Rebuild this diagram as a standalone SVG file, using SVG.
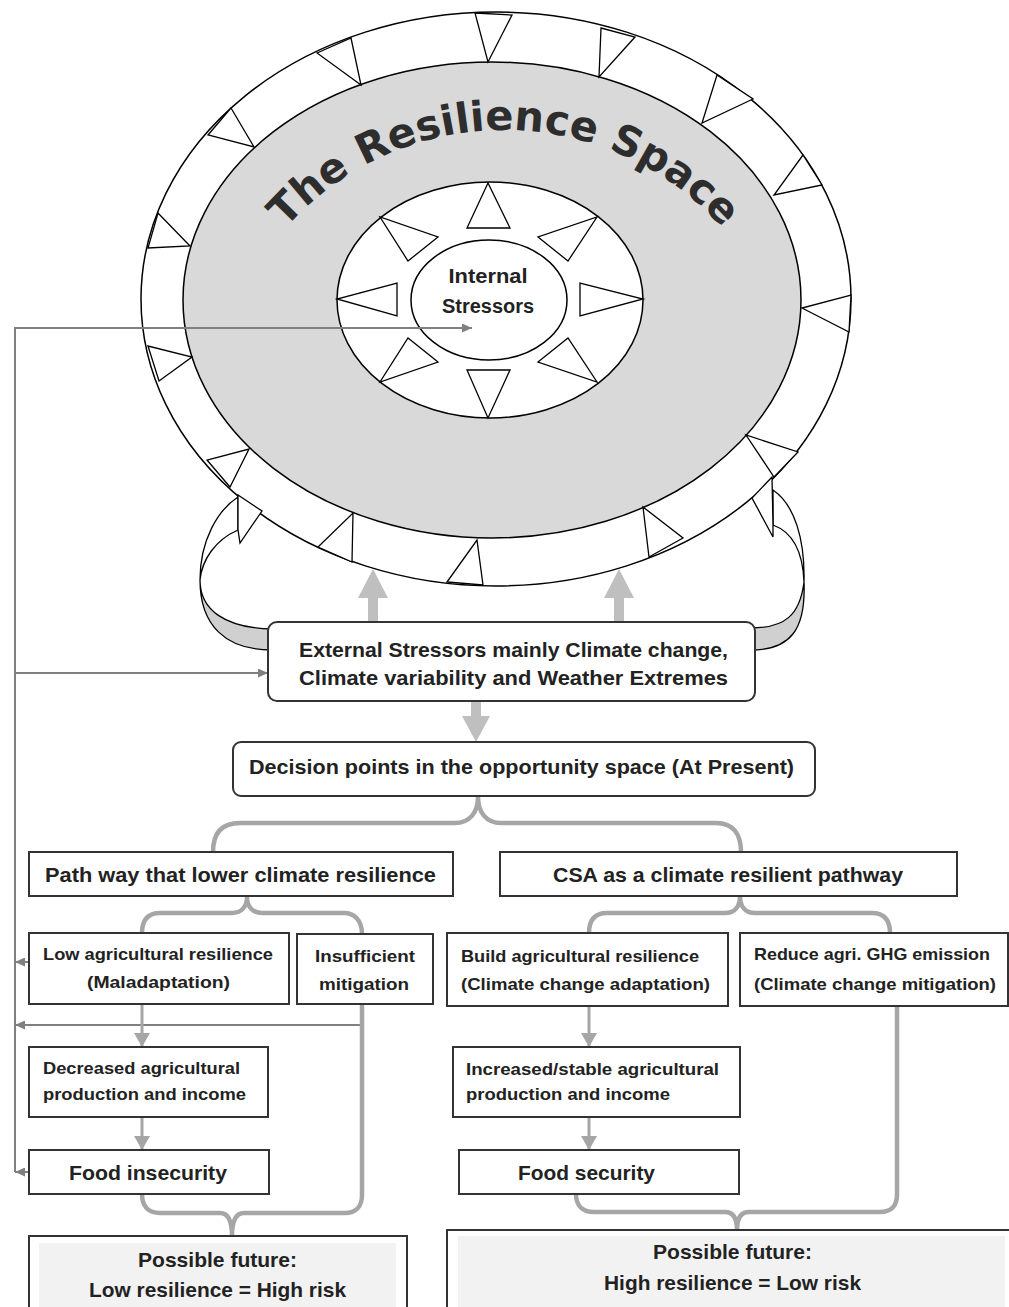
<svg xmlns="http://www.w3.org/2000/svg" width="1009" height="1307" viewBox="0 0 1009 1307">
<style>
.bx{fill:#fff;stroke:#333;stroke-width:2}
.t{font-family:"Liberation Sans",Arial,sans-serif;font-weight:bold;fill:#222}
.ln{stroke:#000;stroke-width:1.5}
.tri{fill:#fff;stroke:#000;stroke-width:1.3;stroke-linejoin:miter}
.fb{stroke:#808080;stroke-width:2;fill:none}
.gc{stroke:#a6a6a6;fill:none;stroke-width:3}
.br{stroke:#a6a6a6;fill:none;stroke-width:4.5;stroke-linejoin:round}
.big{fill:#bfbfbf}
</style>
<defs>
<marker id="fb" markerUnits="userSpaceOnUse" markerWidth="11" markerHeight="9" refX="10" refY="4.5" orient="auto"><path d="M0,0 L10,4.5 L0,9 Z" fill="#808080"/></marker>
<marker id="ga" markerUnits="userSpaceOnUse" markerWidth="17" markerHeight="16" refX="14" refY="8" orient="auto"><path d="M0,0 L14,8 L0,16 Z" fill="#a6a6a6"/></marker>
<path id="titleArc" d="M 212,422 A 292 292 0 0 1 796,422"/>
</defs>

<g id="resilience-space">
<ellipse class="ln" cx="496" cy="299" rx="355" ry="287" fill="#fff"/>
<ellipse class="ln" cx="492" cy="300" rx="309" ry="238" fill="#d9d9d9"/>
<g id="outer-triangles">
<polygon class="tri" points="317,53 351,38 361,85"/>
<polygon class="tri" points="475,13 512,15 488,62"/>
<polygon class="tri" points="601,28 635,37 599,77"/>
<polygon class="tri" points="717,75 753,99 702,123"/>
<polygon class="tri" points="803,155 822,185 774,195"/>
<polygon class="tri" points="851,295 849,332 802,308"/>
<polygon class="tri" points="798,452 774,477 746,435"/>
<polygon class="tri" points="683,538 649,557 643,507"/>
<polygon class="tri" points="447,582 483,585 477,540"/>
<polygon class="tri" points="318,547 352,562 353,513"/>
<polygon class="tri" points="207,460 230,487 249,449"/>
<polygon class="tri" points="148,346 159,381 192,357"/>
<polygon class="tri" points="158,213 148,248 190,246"/>
<polygon class="tri" points="231,108 208,135 254,147"/>
</g>
<ellipse class="ln" cx="490" cy="300" rx="153" ry="118" fill="#fff"/>
<g id="inner-triangles">
<polygon class="tri" points="467,228 510,228 488,183"/>
<polygon class="tri" points="538,237 568,261 597,217"/>
<polygon class="tri" points="580,283 580,316 643,299"/>
<polygon class="tri" points="538,362 568,338 597,382"/>
<polygon class="tri" points="467,370 510,370 488,418"/>
<polygon class="tri" points="438,362 408,338 380,382"/>
<polygon class="tri" points="397,283 397,316 337,299"/>
<polygon class="tri" points="438,237 408,261 380,217"/>
</g>
<text font-family="DejaVu Sans, Verdana, sans-serif" font-weight="bold" font-size="41.5" fill="#2d2d2d"><textPath href="#titleArc" startOffset="50%" text-anchor="middle">The Resilience Space</textPath></text>
</g>

<g id="internal-stressors">
<ellipse class="ln" cx="489" cy="300" rx="78" ry="60" fill="#fff"/>
<text class="t" font-size="20" x="488" y="283" text-anchor="middle" textLength="79" lengthAdjust="spacingAndGlyphs">Internal</text>
<text class="t" font-size="20" x="488" y="313" text-anchor="middle" textLength="92" lengthAdjust="spacingAndGlyphs">Stressors</text>
</g>

<g id="connectors">
<g id="curved-arrow-left">
<path d="M238,497 C218,510 200,540 200,580 C202,560 215,540 238,530 Z" fill="#fff" stroke="#000" stroke-width="1.3"/>
<path d="M200,580 C200,610 225,628 272,629 L272,650 C225,650 200,625 200,580 Z" fill="#d0d0d0" stroke="#000" stroke-width="1.3"/>
<polygon points="238,495 262,511 240,543 238,530" fill="#fff" stroke="#000" stroke-width="1.3"/>
</g>
<g id="curved-arrow-right">
<path d="M773,490 C795,505 805,540 804,582 C803,555 795,533 773,525 Z" fill="#fff" stroke="#000" stroke-width="1.3"/>
<path d="M804,582 C806,630 790,650 751,650 L751,628 C785,628 800,615 804,582 Z" fill="#d0d0d0" stroke="#000" stroke-width="1.3"/>
<polygon points="772,477 752,498 773,537 773,525" fill="#fff" stroke="#000" stroke-width="1.3"/>
</g>
<polygon class="big" points="368,623 368,598 358,598 373,569 388,598 378,598 378,623"/>
<polygon class="big" points="614,623 614,598 604,598 619,569 634,598 624,598 624,623"/>
<polygon class="big" points="471,701 471,716 462,716 476,742 490,716 481,716 481,701"/>
<path class="fb" d="M15,1172 V328 H472" marker-end="url(#fb)"/>
<path class="fb" d="M15,673 H268" marker-end="url(#fb)"/>
<path class="fb" d="M29,962 H15" marker-end="url(#fb)"/>
<path class="fb" d="M362,1025 H15" marker-end="url(#fb)"/>
<path class="fb" d="M29,1172 H15" marker-end="url(#fb)"/>
<path class="br" stroke-width="5" d="M213,852 C213,835 220,823 240,823 L455,823 C470,823 478,812 478,797 C478,812 486,823 501,823 L716,823 C734,823 741,835 741,852"/>
<path class="br" d="M142,933 C142,920 148,913 160,913 L232,913 C242,913 247,906 247,897 C247,906 252,913 262,913 L344,913 C354,913 362,920 362,934"/>
<path class="br" d="M589,933 C589,920 595,913 607,913 L725,913 C735,913 740,906 740,896 C740,906 745,913 755,913 L872,913 C884,913 890,920 890,933"/>
<path class="br" d="M142,1194 C142,1206 148,1213 160,1213 L220,1213 C228,1213 232,1220 232,1236 C232,1220 236,1213 244,1213 L345,1213 C356,1213 362,1206 362,1195 L362,1004"/>
<path class="br" d="M576,1194 C576,1205 582,1212 594,1212 L725,1212 C733,1212 737,1218 737,1230 C737,1218 741,1212 749,1212 L880,1212 C892,1212 897,1205 897,1195 L897,1006"/>
<path class="gc" d="M142,1004 V1047" marker-end="url(#ga)"/>
<path class="gc" d="M142,1117 V1150" marker-end="url(#ga)"/>
<path class="gc" d="M589,1006 V1047" marker-end="url(#ga)"/>
<path class="gc" d="M589,1117 V1150" marker-end="url(#ga)"/>
</g>

<g id="external-stressors">
<rect class="bx" x="268" y="622" width="487" height="79" rx="9"/>
<text class="t" font-size="21" x="299" y="657" textLength="429" lengthAdjust="spacingAndGlyphs">External Stressors mainly Climate change,</text>
<text class="t" font-size="21" x="299" y="685" textLength="429" lengthAdjust="spacingAndGlyphs">Climate variability and Weather Extremes</text>
</g>
<g id="decision-points">
<rect class="bx" x="233" y="742" width="582" height="54" rx="8"/>
<text class="t" font-size="21" x="249" y="774" textLength="545" lengthAdjust="spacingAndGlyphs">Decision points in the opportunity space (At Present)</text>
</g>
<g id="pathway-low">
<rect class="bx" x="29" y="852" width="424" height="44"/>
<text class="t" font-size="21" x="45" y="882" textLength="391" lengthAdjust="spacingAndGlyphs">Path way that lower climate resilience</text>
</g>
<g id="pathway-csa">
<rect class="bx" x="500" y="852" width="457" height="44"/>
<text class="t" font-size="21" x="553" y="882" textLength="350" lengthAdjust="spacingAndGlyphs">CSA as a climate resilient pathway</text>
</g>
<g id="low-agri">
<rect class="bx" x="29" y="933" width="260" height="71"/>
<text class="t" font-size="17" x="43" y="960" textLength="230" lengthAdjust="spacingAndGlyphs">Low agricultural resilience</text>
<text class="t" font-size="17" x="87" y="988" textLength="143" lengthAdjust="spacingAndGlyphs">(Maladaptation)</text>
</g>
<g id="insufficient-mitigation">
<rect class="bx" x="297" y="934" width="136" height="70"/>
<text class="t" font-size="17" x="315" y="962" textLength="100" lengthAdjust="spacingAndGlyphs">Insufficient</text>
<text class="t" font-size="17" x="319" y="990" textLength="90" lengthAdjust="spacingAndGlyphs">mitigation</text>
</g>
<g id="build-resilience">
<rect class="bx" x="447" y="933" width="281" height="73"/>
<text class="t" font-size="17" x="461" y="962" textLength="238" lengthAdjust="spacingAndGlyphs">Build agricultural resilience</text>
<text class="t" font-size="17" x="461" y="990" textLength="249" lengthAdjust="spacingAndGlyphs">(Climate change adaptation)</text>
</g>
<g id="reduce-ghg">
<rect class="bx" x="740" y="933" width="268" height="73"/>
<text class="t" font-size="17" x="754" y="960" textLength="236" lengthAdjust="spacingAndGlyphs">Reduce agri. GHG emission</text>
<text class="t" font-size="17" x="754" y="990" textLength="242" lengthAdjust="spacingAndGlyphs">(Climate change mitigation)</text>
</g>
<g id="decreased-production">
<rect class="bx" x="29" y="1047" width="239" height="70"/>
<text class="t" font-size="17" x="43" y="1074" textLength="197" lengthAdjust="spacingAndGlyphs">Decreased agricultural</text>
<text class="t" font-size="17" x="43" y="1100" textLength="203" lengthAdjust="spacingAndGlyphs">production and income</text>
</g>
<g id="increased-production">
<rect class="bx" x="453" y="1047" width="287" height="70"/>
<text class="t" font-size="17" x="466" y="1075" textLength="253" lengthAdjust="spacingAndGlyphs">Increased/stable agricultural</text>
<text class="t" font-size="17" x="466" y="1100" textLength="204" lengthAdjust="spacingAndGlyphs">production and income</text>
</g>
<g id="food-insecurity">
<rect class="bx" x="29" y="1150" width="240" height="44"/>
<text class="t" font-size="21" x="69" y="1180" textLength="158" lengthAdjust="spacingAndGlyphs">Food insecurity</text>
</g>
<g id="food-security">
<rect class="bx" x="459" y="1150" width="280" height="44"/>
<text class="t" font-size="21" x="518" y="1180" textLength="137" lengthAdjust="spacingAndGlyphs">Food security</text>
</g>
<g id="future-low">
<rect class="bx" x="29" y="1236" width="378" height="80"/>
<rect x="39" y="1243" width="357" height="70" fill="#f2f2f2"/>
<text class="t" font-size="21" x="138" y="1267" textLength="159" lengthAdjust="spacingAndGlyphs">Possible future:</text>
<text class="t" font-size="21" x="89" y="1297" textLength="257" lengthAdjust="spacingAndGlyphs">Low resilience = High risk</text>
</g>
<g id="future-high">
<rect class="bx" x="447" y="1230" width="575" height="90"/>
<rect x="458" y="1236" width="547" height="75" fill="#f2f2f2"/>
<text class="t" font-size="21" x="653" y="1259" textLength="159" lengthAdjust="spacingAndGlyphs">Possible future:</text>
<text class="t" font-size="21" x="604" y="1290" textLength="257" lengthAdjust="spacingAndGlyphs">High resilience = Low risk</text>
</g>
</svg>
